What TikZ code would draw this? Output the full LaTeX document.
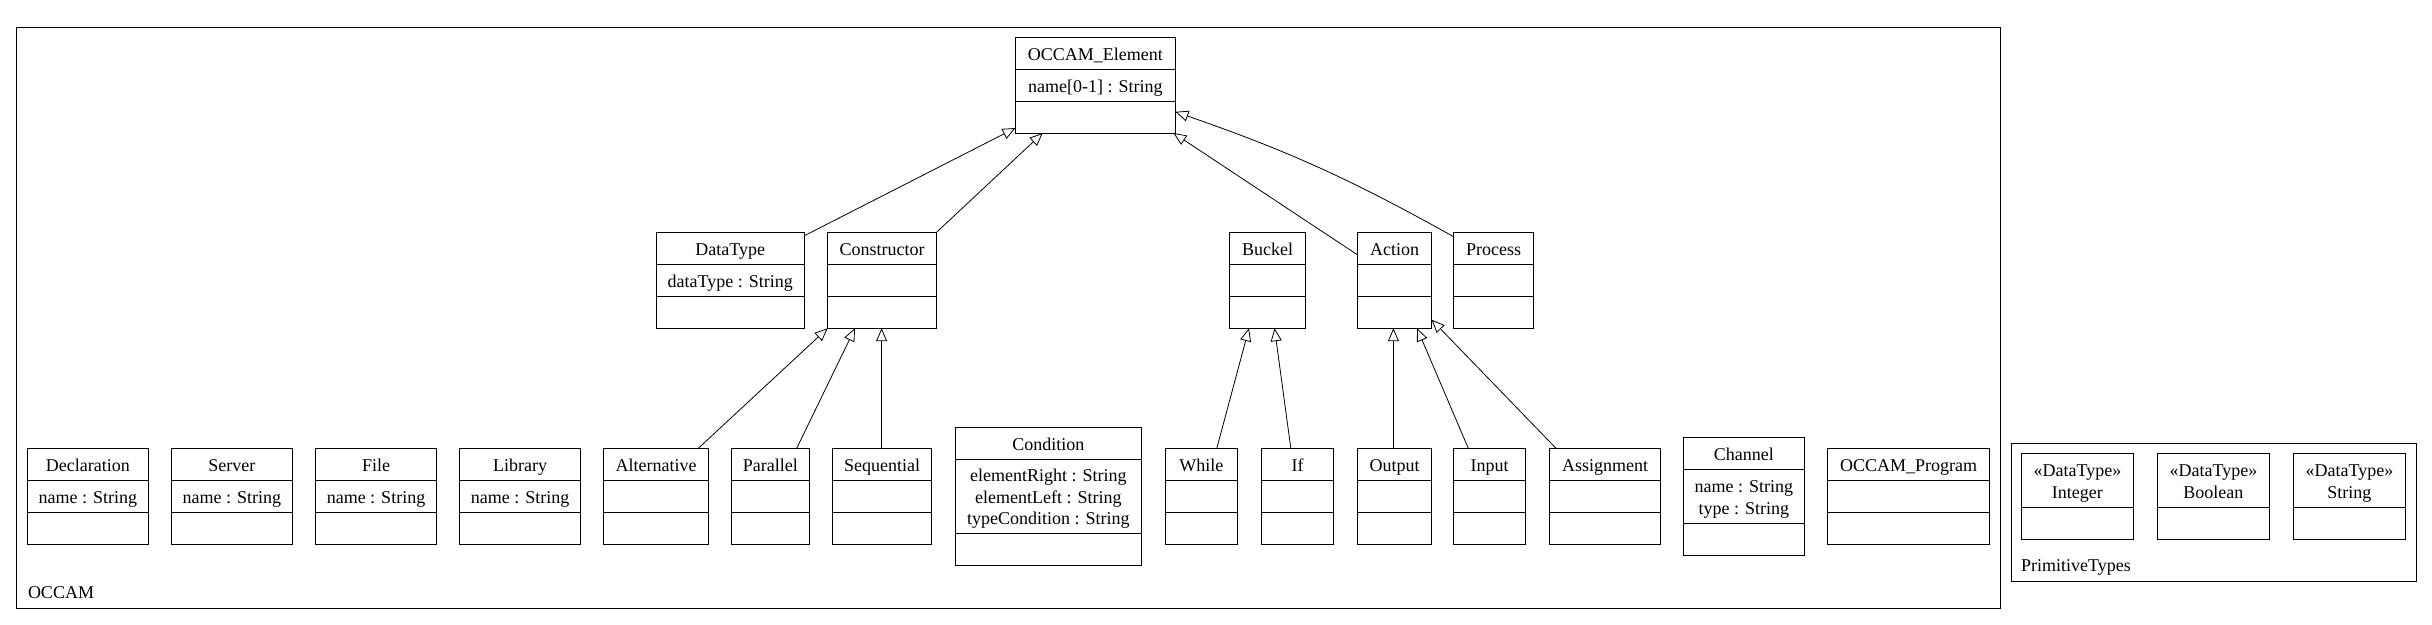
\documentclass[tikz,border=0pt]{standalone}
\usepackage{fontspec}
\setmainfont{Liberation Serif}
\usetikzlibrary{arrows.meta,calc}
\tikzset{
  clsbox/.style={draw, line width=1pt, inner sep=0pt, outer sep=0pt, rectangle},
  sepline/.style={line width=1pt},
  pkgframe/.style={draw, line width=1pt, inner sep=0pt, outer sep=0pt, rectangle},
  txt/.style={inner sep=0pt, outer sep=0pt, align=center, text height=14pt, text depth=0pt,
    font=\fontsize{18}{21.5}\selectfont},
  titletxt/.style={txt},
  attrtxt/.style={txt},
  twolines/.style={txt, text height=35.5pt},
  threelines/.style={txt, text height=57pt},
  lbl/.style={inner sep=0pt, outer sep=0pt, anchor=base west, font=\fontsize{18}{21.5}\selectfont},
  inh/.style={line width=0.8pt, -{Triangle[length=13pt,width=11pt,fill=white,line width=0.8pt]}},
}
% class with three compartments
\newcommand{\umlcls}[9]{%
  \pgfmathsetmacro{\uw}{#4-#2}\pgfmathsetmacro{\uh}{#7-#3}%
  \node[clsbox, minimum width=\uw pt, minimum height=\uh pt] (#1) at ({(#2+#4)/2},{(#3+#7)/2}) {};
  \draw[sepline] (#2,#5) -- (#4,#5);
  \draw[sepline] (#2,#6) -- (#4,#6);
  \node[titletxt] (#1-t) at ({(#2+#4)/2},{(#3+#5)/2}) {#8};
  \node[attrtxt] (#1-a) at ({(#2+#4)/2},{(#5+#6)/2}) {#9};
}
% data type with two compartments
\newcommand{\umldtype}[7]{%
  \pgfmathsetmacro{\uw}{#4-#2}\pgfmathsetmacro{\uh}{#6-#3}%
  \node[clsbox, minimum width=\uw pt, minimum height=\uh pt] (#1) at ({(#2+#4)/2},{(#3+#6)/2}) {};
  \draw[sepline] (#2,#5) -- (#4,#5);
  \node[twolines] (#1-t) at ({(#2+#4)/2},{(#3+#5)/2}) {#7};
}
\newcommand{\umlframe}[5]{%
  \pgfmathsetmacro{\uw}{#4-#2}\pgfmathsetmacro{\uh}{#5-#3}%
  \node[pkgframe, minimum width=\uw pt, minimum height=\uh pt] (#1) at ({(#2+#4)/2},{(#3+#5)/2}) {};
}
\begin{document}
\begin{tikzpicture}[x=1pt,y=-1pt]
\useasboundingbox (0,0) rectangle (2432,624);
% packages
\umlframe{occampkg}{16.3}{27.3}{2000.5}{608.3}
\node[lbl] (occamlbl) at (28,598.5) {OCCAM};
\umlframe{primpkg}{2011.6}{443.3}{2416.6}{581.6}
\node[lbl] (primlbl) at (2021,571.5) {PrimitiveTypes};
% top
\umlcls{oe}{1015.5}{37.3}{1175.4}{69}{101}{133}{OCCAM\_Element}{name[0-1] : String}
% middle row
\umlcls{dt}{656.4}{232.3}{804.2}{264}{296}{328.2}{DataType}{dataType : String}
\umlcls{cons}{827.7}{232.3}{936.5}{264}{296}{328.2}{Constructor}{}
\umlcls{buckel}{1229.6}{232.3}{1305.6}{264}{296}{328.2}{Buckel}{}
\umlcls{action}{1357.7}{232.3}{1431.6}{264}{296}{328.2}{Action}{}
\umlcls{process}{1453.6}{232.3}{1533.7}{264}{296}{328.2}{Process}{}
% bottom row
\umlcls{decl}{27.5}{448.3}{148.3}{480.6}{512.5}{544.3}{Declaration}{name : String}
\umlcls{server}{171.4}{448.3}{292.3}{480.6}{512.5}{544.3}{Server}{name : String}
\umlcls{file}{315.3}{448.3}{436.7}{480.6}{512.5}{544.3}{File}{name : String}
\umlcls{library}{459.7}{448.3}{580.6}{480.6}{512.5}{544.3}{Library}{name : String}
\umlcls{alt}{603.6}{448.3}{708.7}{480.6}{512.5}{544.3}{Alternative}{}
\umlcls{par}{731.6}{448.3}{809.2}{480.6}{512.5}{544.3}{Parallel}{}
\umlcls{seq}{832.7}{448.3}{931.6}{480.6}{512.5}{544.3}{Sequential}{}
\begin{scope}[attrtxt/.style={threelines}]
\umlcls{cond}{955.6}{427.3}{1141.3}{459}{533.3}{565}{Condition}{elementRight : String\\elementLeft : String\\typeCondition : String}
\end{scope}
\umlcls{while}{1165.3}{448.3}{1237.2}{480.6}{512.5}{544.3}{While}{}
\umlcls{if}{1261.7}{448.3}{1333.7}{480.6}{512.5}{544.3}{If}{}
\umlcls{output}{1357.7}{448.3}{1431.6}{480.6}{512.5}{544.3}{Output}{}
\umlcls{input}{1453.6}{448.3}{1525.5}{480.6}{512.5}{544.3}{Input}{}
\umlcls{assign}{1549.5}{448.3}{1660.5}{480.6}{512.5}{544.3}{Assignment}{}
\begin{scope}[attrtxt/.style={twolines}]
\umlcls{channel}{1683.3}{437.3}{1804.2}{469.6}{523.3}{555.1}{Channel}{name : String\\type : String}
\end{scope}
\umlcls{prog}{1827.6}{448.3}{1989.4}{480.6}{512.5}{544.3}{OCCAM\_Program}{}
% primitive types
\umldtype{integer}{2021.5}{453.3}{2133.3}{507.7}{539}{«DataType»\\Integer}
\umldtype{boolean}{2157.5}{453.3}{2269.4}{507.7}{539}{«DataType»\\Boolean}
\umldtype{string}{2293.4}{453.3}{2405.3}{507.7}{539}{«DataType»\\String}
% generalisations
\draw[inh] ($(dt.north east)+(0,3.5)$) -- ($(oe.south west)+(0,-5)$);
\draw[inh] (cons.north east) -- ($(oe.south west)+(27.2,0)$);
\draw[inh] ($(action.north west)+(0,22.7)$) -- ($(oe.south east)+(-2,0)$);
\draw[inh] ($(process.north west)+(0,4.4)$) to[bend right=5] ($(oe.north east)+(0,74.5)$);
\draw[inh] ($(alt.north west)+(94.7,0)$) -- (cons.south west);
\draw[inh] ($(par.north west)+(65.1,0)$) -- ($(cons.south west)+(27.3,0)$);
\draw[inh] ($(seq.north west)+(48.9,0)$) -- ($(cons.south west)+(53.9,0)$);
\draw[inh] ($(while.north west)+(51.5,0)$) -- ($(buckel.south west)+(19.4,0)$);
\draw[inh] ($(if.north west)+(29.1,0)$) -- ($(buckel.south west)+(44.9,0)$);
\draw[inh] ($(output.north west)+(35.7,0)$) -- ($(action.south west)+(35.7,0)$);
\draw[inh] ($(input.north west)+(14.7,0)$) -- ($(action.south west)+(59.3,0)$);
\draw[inh] ($(assign.north west)+(6.5,0)$) -- ($(action.south east)+(0,-8.5)$);
\end{tikzpicture}
\end{document}
